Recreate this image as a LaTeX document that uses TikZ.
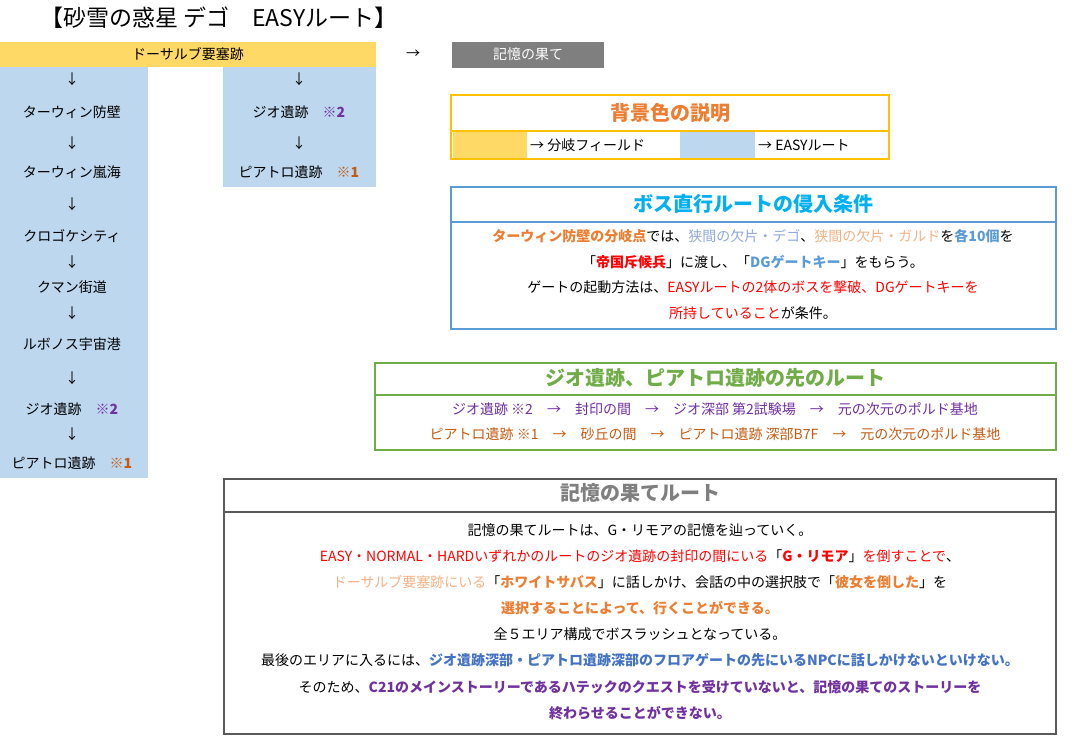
\documentclass[tikz,border=0pt]{standalone}
\usepackage{fontspec}
\setmainfont{Noto Sans CJK JP}
\definecolor{yel}{HTML}{FFD966}
\definecolor{blu}{HTML}{BDD7EE}
\definecolor{gry}{HTML}{7F7F7F}
\definecolor{dgry}{HTML}{595959}
\definecolor{gold}{HTML}{FFC000}
\definecolor{org}{HTML}{ED7D31}
\definecolor{lorg}{HTML}{F4B183}
\definecolor{brn}{HTML}{C55A11}
\definecolor{pur}{HTML}{7030A0}
\definecolor{bbd}{HTML}{5B9BD5}
\definecolor{cyan2}{HTML}{00B0F0}
\definecolor{grn}{HTML}{70AD47}
\definecolor{ltb}{HTML}{8EA9DB}
\definecolor{mblu}{HTML}{4472C4}
\newcommand\bc[2]{\textcolor{#1}{\bfseries #2}}
\newcommand\nc[2]{\textcolor{#1}{#2}}
\begin{document}
\begin{tikzpicture}[x=1pt,y=-1pt,
  txt/.style={font=\fontsize{14}{16}\selectfont,inner sep=0pt,anchor=center},
  ttl/.style={font=\fontsize{20}{22}\selectfont\bfseries,inner sep=0pt},
  col/.style={fill=blu,draw=none}]
\useasboundingbox (0,0) rectangle (1072,752);
\fill[white] (0,0) rectangle (1072,752);
\node[inner sep=0pt,anchor=west,font=\fontsize{23}{25}\selectfont] (title) at (40,18) {【砂雪の惑星 デゴ　EASYルート】};
% top bar
\fill[yel] (0,42) rectangle (376,67);
\node[txt] (dors) at (188,54) {ドーサルブ要塞跡};
\node[txt] (arr) at (413,54) {→};
\fill[gry] (452,42) rectangle (604,68);
\node[txt,text=white] (kioku) at (528,54) {記憶の果て};
% columns
\fill[blu] (0,67) rectangle (148,478);
\fill[blu] (223,67) rectangle (376,187);
\foreach \y in {79,143,204,262,313,378,434} \node[txt] at (72,\y) {↓};
\node[txt] (a1) at (72,112) {ターウィン防壁};
\node[txt] (a2) at (72,172) {ターウィン嵐海};
\node[txt] (a3) at (72,236) {クロゴケシティ};
\node[txt] (a4) at (72,287) {クマン街道};
\node[txt] (a5) at (72,344) {ルボノス宇宙港};
\node[txt] (a6) at (72,409) {ジオ遺跡　\bc{pur}{※2}};
\node[txt] (a7) at (72,463) {ピアトロ遺跡　\bc{brn}{※1}};
\foreach \y in {79,143} \node[txt] at (299,\y) {↓};
\node[txt] (b1) at (299,112) {ジオ遺跡　\bc{pur}{※2}};
\node[txt] (b2) at (299,172) {ピアトロ遺跡　\bc{brn}{※1}};
% legend
\fill[yel] (453,132) rectangle (527,158);
\fill[blu] (680,132) rectangle (755,158);
\draw[gold,line width=2] (451,95) rectangle (889,159);
\draw[gold,line width=2] (451,131) -- (889,131);
\node[ttl,text=org] (lt) at (670,113) {背景色の説明};
\node[txt,anchor=west] (l1) at (530,145) {→ 分岐フィールド};
\node[txt,anchor=west] (l2) at (758,145) {→ EASYルート};
% boss box
\draw[bbd,line width=2] (451,187) rectangle (1056,329);
\draw[bbd,line width=2] (451,222) -- (1056,222);
\node[ttl,text=cyan2] (bt) at (753,204) {ボス直行ルートの侵入条件};
\node[txt] (c1) at (753,236) {\bc{org}{ターウィン防壁の分岐点}では、\nc{ltb}{狭間の欠片・デゴ}、\nc{lorg}{狭間の欠片・ガルド}を\bc{bbd}{各10個}を};
\node[txt] (c2) at (753,262) {「\bc{red}{帝国斥候兵}」に渡し、「\bc{bbd}{DGゲートキー}」をもらう。};
\node[txt] (c3) at (753,287) {ゲートの起動方法は、\nc{red}{EASYルートの2体のボスを撃破、DGゲートキーを}};
\node[txt] (c4) at (753,313) {\nc{red}{所持していること}が条件。};
% green box
\draw[grn,line width=2] (375,363) rectangle (1056,450);
\draw[grn,line width=2] (375,395) -- (1056,395);
\node[ttl,text=grn] (gt) at (715,378) {ジオ遺跡、ピアトロ遺跡の先のルート};
\node[txt,text=pur] (g1) at (715,409) {ジオ遺跡 ※2　→　封印の間　→　ジオ深部 第2試験場　→　元の次元のポルド基地};
\node[txt,text=brn] (g2) at (715,434) {ピアトロ遺跡 ※1　→　砂丘の間　→　ピアトロ遺跡 深部B7F　→　元の次元のポルド基地};
% memory box
\draw[dgry,line width=2.5] (224,479) rectangle (1056,734);
\draw[dgry,line width=2] (224,512) -- (1056,512);
\node[ttl,text=gry] (mt) at (640,493) {記憶の果てルート};
\node[txt] (m1) at (640,530) {記憶の果てルートは、G・リモアの記憶を辿っていく。};
\node[txt] (m2) at (640,556) {\nc{red}{EASY・NORMAL・HARDいずれかのルートのジオ遺跡の封印の間にいる}「\bc{red}{G・リモア}」\nc{red}{を倒すことで}、};
\node[txt] (m3) at (640,582) {\nc{lorg}{ドーサルブ要塞跡にいる}「\bc{org}{ホワイトサバス}」に話しかけ、会話の中の選択肢で「\bc{org}{彼女を倒した}」を};
\node[txt] (m4) at (640,608) {\bc{org}{選択することによって、行くことができる。}};
\node[txt] (m5) at (640,634) {全５エリア構成でボスラッシュとなっている。};
\node[txt] (m6) at (640,660) {最後のエリアに入るには、\bc{mblu}{ジオ遺跡深部・ピアトロ遺跡深部のフロアゲートの先にいるNPCに話しかけないといけない。}};
\node[txt] (m7) at (640,687) {そのため、\bc{pur}{C21のメインストーリーであるハテックのクエストを受けていないと、記憶の果てのストーリーを}};
\node[txt] (m8) at (640,713) {\bc{pur}{終わらせることができない。}};
\end{tikzpicture}
\end{document}
